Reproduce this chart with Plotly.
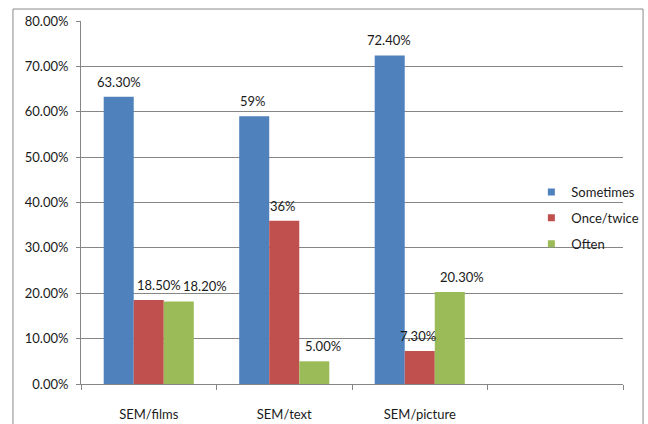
import plotly.graph_objects as go

# Survey responses per category
categories = ["SEM/films", "SEM/text", "SEM/picture"]
sometimes = [63.3, 59.0, 72.4]
once_twice = [18.5, 36.0, 7.3]
often = [18.2, 5.0, 20.3]

sometimes_labels = ["63.30%", "59%", "72.40%"]
once_twice_labels = ["18.50%", "36%", "7.30%"]
often_labels = ["18.20%", "5.00%", "20.30%"]

y_ticks = [0, 10, 20, 30, 40, 50, 60, 70, 80]
y_tick_text = ["0.00%", "10.00%", "20.00%", "30.00%", "40.00%",
               "50.00%", "60.00%", "70.00%", "80.00%"]

# an unused trailing slot keeps the empty space on the right of the axis
axis_slots = categories + [" "]

series = [
    ("Sometimes", sometimes, sometimes_labels, "#4F81BD"),
    ("Once/twice", once_twice, once_twice_labels, "#C0504D"),
    ("Often", often, often_labels, "#9BBB59"),
]

FONT = "Lato, Open Sans, sans-serif"
FONT_SIZE = 13
TEXT_COLOR = "#1a1a1a"

# horizontal pixel offset of each series' bar from its category centre
BAR_OFFSET = [-30, 0, 30]
# extra sideways nudge of value labels so neighbouring labels don't collide
LABEL_NUDGE = [
    [0, -1, -1],
    [10, -1, -2],
    [26, 9, 12],
]

fig = go.Figure()
for s, (name, vals, labels, color) in enumerate(series):
    fig.add_trace(go.Bar(
        name=name,
        x=categories,
        y=vals,
        marker=dict(color=color, line=dict(width=0)),
        showlegend=False,
    ))
    # small square swatches for the legend
    fig.add_trace(go.Scatter(
        name=name,
        x=[None], y=[None],
        mode="markers",
        marker=dict(symbol="square", size=7, color=color),
        showlegend=True,
        legendgroup=name,
    ))
    for i, (cat, v, lab) in enumerate(zip(categories, vals, labels)):
        fig.add_annotation(
            x=cat, y=v, text=lab, showarrow=False,
            xanchor="center", yanchor="middle",
            xshift=BAR_OFFSET[s] + LABEL_NUDGE[s][i], yshift=15,
            font=dict(family=FONT, size=FONT_SIZE, color=TEXT_COLOR),
        )

fig.update_layout(
    width=648,
    height=424,
    margin=dict(l=81, r=25, t=21, b=40, autoexpand=False),
    paper_bgcolor="white",
    plot_bgcolor="white",
    barmode="group",
    bargap=0.335,
    bargroupgap=0,
    font=dict(family=FONT, size=FONT_SIZE, color=TEXT_COLOR),
    showlegend=True,
    legend=dict(
        xref="container", yref="container",
        x=0.82, y=0.486, xanchor="left", yanchor="middle",
        bgcolor="rgba(0,0,0,0)",
        font=dict(family=FONT, size=FONT_SIZE, color=TEXT_COLOR),
        tracegroupgap=6,
        itemwidth=30,
    ),
)

fig.update_xaxes(
    type="category",
    categoryorder="array",
    categoryarray=axis_slots,
    range=[-0.5, 3.5],
    tickson="boundaries",
    ticks="outside",
    ticklen=5,
    tickcolor="#868686",
    showline=True,
    linecolor="#868686",
    linewidth=1,
    showgrid=False,
    ticklabelstandoff=18,
    tickfont=dict(family=FONT, size=FONT_SIZE, color=TEXT_COLOR),
)

fig.update_yaxes(
    range=[0, 80],
    tickvals=y_ticks,
    ticktext=y_tick_text,
    ticks="outside",
    ticklen=4,
    tickcolor="#868686",
    showline=True,
    linecolor="#868686",
    linewidth=1,
    showgrid=True,
    gridcolor="#868686",
    gridwidth=1,
    zeroline=False,
    ticklabelstandoff=5,
    tickfont=dict(family=FONT, size=FONT_SIZE, color=TEXT_COLOR),
)

# outer chart frame
fig.add_shape(
    type="rect", xref="paper", yref="paper",
    x0=-0.1255, x1=1.037, y0=-0.13, y1=1.033,
    line=dict(color="#8a8a8a", width=1),
    fillcolor="rgba(0,0,0,0)",
    layer="below",
)

fig.write_html("out.html")
